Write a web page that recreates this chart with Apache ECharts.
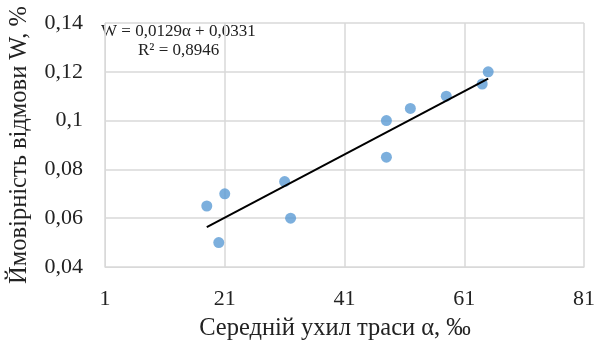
<!DOCTYPE html>
<html><head><meta charset="utf-8">
<script src="https://cdn.jsdelivr.net/npm/echarts@6/dist/echarts.min.js"></script>
<style>html,body{margin:0;padding:0;background:#fff}#c{width:594px;height:340px}</style>
</head><body><div id="c"></div>
<script>
const alphaValues = [18, 20, 21, 31, 32, 48, 48, 52, 58, 64, 65];
const wValues = [0.065, 0.05, 0.07, 0.075, 0.06, 0.1, 0.085, 0.105, 0.11, 0.115, 0.12];
const xTicks = [1, 21, 41, 61, 81];
const yTicks = [0.04, 0.06, 0.08, 0.1, 0.12, 0.14];
const xTitle = 'Середній ухил траси α, ‰';
const yTitle = 'Ймовірність відмови W, %';
const eqText = 'W = 0,0129α + 0,0331';
const r2Text = 'R² = 0,8946';

const n = alphaValues.length;
const mx = alphaValues.reduce((a,b)=>a+b,0)/n;
const my = wValues.reduce((a,b)=>a+b,0)/n;
let sxy=0, sxx=0;
for (let i=0;i<n;i++){ sxy+=(alphaValues[i]-mx)*(wValues[i]-my); sxx+=(alphaValues[i]-mx)**2; }
const slope = sxy/sxx, icpt = my - slope*mx;
const xmin = Math.min(...alphaValues), xmax = Math.max(...alphaValues);
const trend = [[xmin, icpt+slope*xmin],[xmax, icpt+slope*xmax]];

const fmtY = v => { const t = yTicks.find(t => Math.abs(t - v) < 1e-9); return String(t !== undefined ? t : v).replace('.', ','); };
const font = '"Liberation Serif", "Times New Roman", serif';

const chart = echarts.init(document.getElementById('c'));
chart.setOption({
  animation: false,
  textStyle: { fontFamily: font },
  grid: { left: 105, right: 10, top: 23, bottom: 73, containLabel: false, outerBoundsMode: 'none' },
  xAxis: {
    type: 'value', min: xTicks[0], max: xTicks[xTicks.length-1], interval: 20,
    name: xTitle, nameLocation: 'middle', nameGap: 49,
    nameTextStyle: { fontFamily: font, fontSize: 24.5, color: '#222', padding: [0, 19, 0, 0] },
    axisLine: { show: true, lineStyle: { color: '#d9d9d9', width: 1 } },
    axisTick: { show: false },
    axisLabel: { fontFamily: font, fontSize: 22, color: '#222', margin: 21 },
    splitLine: { show: true, lineStyle: { color: '#d9d9d9', width: 1.5 } }
  },
  yAxis: {
    type: 'value', min: yTicks[0], max: yTicks[yTicks.length-1], interval: 0.02,
    name: yTitle, nameLocation: 'middle', nameGap: 73, nameRotate: 90,
    nameTextStyle: { fontFamily: font, fontSize: 24.5, color: '#222' },
    axisLine: { show: true, lineStyle: { color: '#d9d9d9', width: 1 } },
    axisTick: { show: false },
    axisLabel: { fontFamily: font, fontSize: 22, color: '#222', margin: 22, formatter: fmtY },
    splitLine: { show: true, lineStyle: { color: '#d9d9d9', width: 1.5 } }
  },
  series: [
    { type: 'scatter', data: alphaValues.map((a,i)=>[a, wValues[i]]), symbolSize: 11,
      itemStyle: { color: '#5b9bd5' }, z: 3 },
    { type: 'line', data: trend, symbol: 'none', lineStyle: { color: '#000', width: 2 }, z: 4 }
  ],
  graphic: [
    { type: 'text', left: 101, top: 23, style: { text: eqText, fontFamily: font, fontSize: 17, fill: '#222' } },
    { type: 'text', left: 138, top: 42, style: { text: r2Text, fontFamily: font, fontSize: 17, fill: '#222' } }
  ]
});
</script></body></html>
